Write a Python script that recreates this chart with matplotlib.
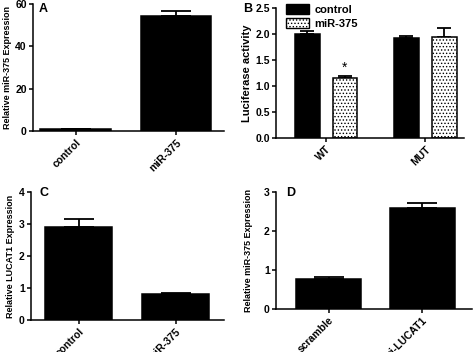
import matplotlib
matplotlib.use("Agg")
import matplotlib.pyplot as plt
from matplotlib.patches import Patch

plt.rcParams['font.family'] = ['Liberation Sans', 'DejaVu Sans']
plt.rcParams['font.weight'] = 'bold'
plt.rcParams['hatch.linewidth'] = 0.6

W, H = 474, 352

# Panel A
a_cats = ["control", "miR-375"]
a_vals = [0.8, 54.5]
a_errs = [0.3, 2.0]
# Panel B
b_groups = ["WT", "MUT"]
b_series = ["control", "miR-375"]
b_control = [2.0, 1.93]
b_control_err = [0.05, 0.04]
b_mir = [1.15, 1.95]
b_mir_err = [0.04, 0.17]
# Panel C
c_cats = ["control", "miR-375"]
c_vals = [2.92, 0.8]
c_errs = [0.23, 0.05]
# Panel D
d_cats = ["scramble", "si-LUCAT1"]
d_vals = [0.76, 2.6]
d_errs = [0.06, 0.13]

fig = plt.figure(figsize=(W/100, H/100), dpi=100)

def ax_px(l, r, t, b):
    return fig.add_axes([l/W, 1-b/H, (r-l)/W, (b-t)/H])

def style(ax):
    for s in ['top', 'right']:
        ax.spines[s].set_visible(False)
    for s in ['left', 'bottom']:
        ax.spines[s].set_linewidth(1.1)
    ax.tick_params(width=1.1, length=3, labelsize=7.5, pad=1.5)
    for lab in ax.get_yticklabels():
        lab.set_fontweight('bold')

def bars(ax, x, vals, errs, width, hatch=None, cap=10):
    fc = 'white' if hatch else 'black'
    ax.bar(x, vals, width=width, color=fc, edgecolor='black', linewidth=1.1,
           hatch=hatch, zorder=2)
    ax.errorbar(x, vals, yerr=[[0]*len(vals), errs], fmt='none', ecolor='black',
                elinewidth=1.3, capsize=cap, capthick=1.3, zorder=1)

def xlabels(ax, x, labels):
    ax.set_xticks(x)
    ax.set_xticklabels(labels, rotation=45, ha='right', rotation_mode='anchor',
                       fontweight='bold', fontsize=7.5)

# A
ax = ax_px(33, 224, 4, 131)
xs = [0, 1]
bars(ax, xs, a_vals, a_errs, 0.7, cap=11)
ax.set_xlim(-0.423, 1.478)
ax.set_ylim(0, 60)
ax.set_yticks([0, 20, 40, 60])
xlabels(ax, xs, a_cats)
ax.set_ylabel("Relative miR-375 Expression", fontsize=6.5, fontweight='bold', labelpad=2)
style(ax)
fig.text(39/W, 1-3/H, "A", fontsize=9, fontweight='bold', va='top')

# B
ax = ax_px(276, 464, 8, 138)
xs = [0, 1]
off = 0.19
bw = 0.25
bars(ax, [x - off for x in xs], b_control, b_control_err, bw, cap=5)
bars(ax, [x + off for x in xs], b_mir, b_mir_err, bw, hatch='.....', cap=5)
ax.set_xlim(-0.505, 1.39)
ax.set_ylim(0, 2.5)
ax.set_yticks([0, 0.5, 1.0, 1.5, 2.0, 2.5])
ax.set_yticklabels(["0.0", "0.5", "1.0", "1.5", "2.0", "2.5"])
xlabels(ax, xs, b_groups)
ax.set_ylabel("Luciferase activity", fontsize=8, fontweight='bold', labelpad=2)
style(ax)
ax.text(xs[0] + off, b_mir[0] + b_mir_err[0] + 0.03, "*", ha='center', va='bottom',
        fontsize=10, fontweight='normal')
handles = [Patch(facecolor='black', edgecolor='black'),
           Patch(facecolor='white', edgecolor='black', hatch='.....')]
ax.legend(handles, b_series, loc='upper left', bbox_to_anchor=(0.02, 1.08),
          frameon=False, handlelength=2.0, handleheight=1.0,
          labelspacing=0.25, borderpad=0.1, handletextpad=0.5,
          prop={'weight': 'bold', 'size': 8})
fig.text(243/W, 1-3/H, "B", fontsize=9, fontweight='bold', va='top')

# C
ax = ax_px(31, 224, 192, 320)
xs = [0, 1]
bars(ax, xs, c_vals, c_errs, 0.69, cap=11)
ax.set_xlim(-0.49, 1.5)
ax.set_ylim(0, 4)
ax.set_yticks([0, 1, 2, 3, 4])
xlabels(ax, xs, c_cats)
ax.set_ylabel("Relative LUCAT1 Expression", fontsize=6.5, fontweight='bold', labelpad=3)
style(ax)
fig.text(39/W, 1-187/H, "C", fontsize=9, fontweight='bold', va='top')

# D
ax = ax_px(276, 472, 192, 309)
xs = [0, 1]
bars(ax, xs, d_vals, d_errs, 0.69, cap=11)
ax.set_xlim(-0.56, 1.53)
ax.set_ylim(0, 3)
ax.set_yticks([0, 1, 2, 3])
xlabels(ax, xs, d_cats)
ax.set_ylabel("Relative miR-375 Expression", fontsize=6.5, fontweight='bold', labelpad=8)
style(ax)
fig.text(286/W, 1-187/H, "D", fontsize=9, fontweight='bold', va='top')

fig.savefig("out.png", dpi=100)
